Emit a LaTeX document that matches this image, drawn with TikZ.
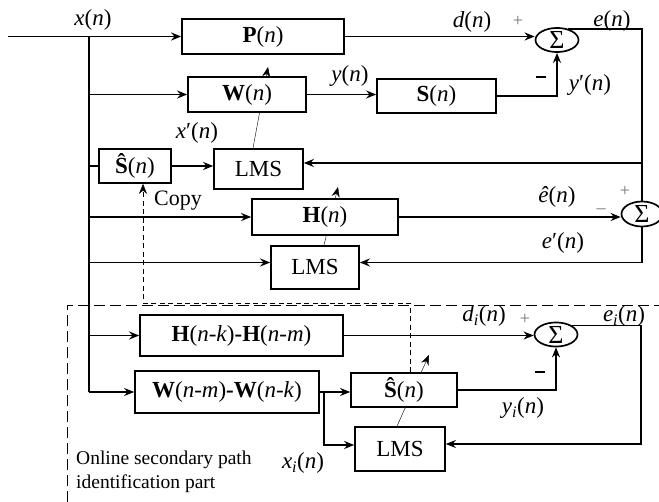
\documentclass[tikz,border=0pt]{standalone}
\usepackage{fontspec}
\setmainfont{Liberation Serif}
\usetikzlibrary{arrows.meta,shapes.geometric}
\pgfdeclarelayer{bg}
\pgfsetlayers{bg,main}
\begin{document}
\begin{tikzpicture}[x=1pt,y=-1pt,line width=1.7pt,
  every node/.style={font=\fontsize{23}{27}\selectfont, inner sep=0pt},
  blk/.style={draw, fill=white, line width=1.7pt},
  sum/.style={draw, ellipse, fill=white, minimum width=43, minimum height=22, inner sep=0pt, font=\fontsize{26}{26}\selectfont},
  arr/.style={-{Stealth[length=10pt,width=8pt]}},
  lbl/.style={font=\fontsize{23}{27}\selectfont},
  pl/.style={font=\fontsize{18}{18}\selectfont, text=black!55},
  mn/.style={inner sep=0pt},
  cpy/.style={dash pattern=on 5pt off 3.5pt},
  frame/.style={dash pattern=on 11pt off 5pt}]
\useasboundingbox (0,0) rectangle (659,502);

% blocks
\node[blk, minimum width=162, minimum height=35] (P) at (263,36.5) {\textbf{P}(\textit{n})};
\node[blk, minimum width=118, minimum height=35] (W) at (247,94.5) {\textbf{W}(\textit{n})};
\node[blk, minimum width=119, minimum height=34] (S) at (436.5,96) {\textbf{S}(\textit{n})};
\node[sum] (s1) at (557,40) {Σ};
\node[blk, minimum width=72, minimum height=34] (Sh1) at (135,166) {\textbf{Ŝ}(\textit{n})};
\node[blk, minimum width=89, minimum height=40] (L1) at (258.5,169) {LMS};
\node[blk, minimum width=146, minimum height=36] (H) at (325,217) {\textbf{H}(\textit{n})};
\node[blk, minimum width=88, minimum height=43] (L2) at (315,267.5) {LMS};
\node[sum, minimum width=41, minimum height=25] (s2) at (642,214) {Σ};
\node[blk, minimum width=203, minimum height=41] (HH) at (241.5,335.5) {\textbf{H}(\textit{n}-\textit{k})\textbf{-}\textbf{H}(\textit{n}-\textit{m})};
\node[blk, minimum width=184, minimum height=42] (WW) at (227,392) {\textbf{W}(\textit{n}-\textit{m})\textbf{-}\textbf{W}(\textit{n}-\textit{k})};
\node[blk, minimum width=106, minimum height=34] (Sh2) at (404,390) {\textbf{Ŝ}(\textit{n})};
\node[blk, minimum width=90, minimum height=44] (L3) at (400,449) {LMS};
\node[sum] (s3) at (556,334.5) {Σ};

% coordinates
\coordinate (in) at (8,36.5);
\coordinate (bt) at (89,36.5);
\coordinate (bb) at (89,392);
\coordinate (eR) at (642,32);
\coordinate (fb) at (642,163);
\coordinate (l2in) at ([yshift=5pt]L2.west);
\coordinate (l2out) at ([yshift=5pt]L2.east);
\coordinate (br) at (324,392);
\coordinate (l3in) at ([yshift=4pt]L3.west);
\coordinate (l3out) at ([yshift=5pt]L3.east);
\coordinate (eiR) at (641,329);
\coordinate (cp) at (143,303);
\coordinate (tw) at (268,67);
\coordinate (th) at (338,187);
\coordinate (ts) at (429,355);

% input bus
\draw[arr] (in) -- (P.west);
\draw (bt) -- (bb);
\draw[arr] (bt |- W.west) -- (W.west);
\draw (bt |- Sh1.west) -- (Sh1.west);
\draw[arr] (bt |- H.west) -- (H.west);
\draw[arr] (bt |- l2in) -- (l2in);
\draw[arr] (bt |- HH.west) -- (HH.west);
\draw[arr] (bb) -- (WW.west);

% upper path
\draw[arr] (P.east) -- (P.east -| s1.west);
\draw[arr] (W.east) -- (W.east -| S.west);
\draw[arr] (S.east) -| (s1.south);
\draw (s1.45) -- (s1.45 -| eR) -- (s2.north);
\draw[arr] (fb) -- (fb -| L1.east);
\draw[arr] (Sh1.east) -- (Sh1.east -| L1.west);
\draw[arr] (H.east) -- (H.east -| s2.west);
\draw[arr] (s2.south) |- (l2out);

% lower path
\draw[arr] (HH.east) -- (HH.east -| s3.west);
\draw[arr] (WW.east) -- (WW.east -| Sh2.west);
\draw[arr] (br) |- (l3in);
\draw[arr] (Sh2.east) -| (s3.south);
\draw (s3.30) -- (s3.30 -| eiR);
\draw[arr] (s3.30 -| eiR) |- (l3out);

% adaptation arrows
\begin{pgfonlayer}{bg}
\draw[arr] ([xshift=-5.5pt]L1.north) -- (tw);
\draw[arr] ([xshift=9pt]L2.north) -- (th);
\draw[arr] ([xshift=-3pt]L3.north) -- (ts);
\end{pgfonlayer}

% dashed
\draw[frame] (67,502) -- (67,305) -- (659,305);
\draw[cpy,arr] ([xshift=6pt]Sh2.north) |- (cp) -- (cp |- Sh1.south);

% labels
\node[lbl] (lx) at (93,20) {\textit{x}(\textit{n})};
\node[lbl] (ld) at (472,22) {\textit{d}(\textit{n})};
\node[pl] (p1) at (518,21) {+};
\node[lbl] (le) at (612,21) {\textit{e}(\textit{n})};
\node[lbl] (ly) at (350,76) {\textit{y}(\textit{n})};
\node[mn] (m1) at (541,77) {\rule{10pt}{2.6pt}};
\node[lbl] (lyp) at (590,85) {\textit{y}′(\textit{n})};
\node[lbl] (lxp) at (197,133) {\textit{x}′(\textit{n})};
\node[font=\fontsize{22}{24}\selectfont] (copy) at (178,201) {Copy};
\node[lbl] (leh) at (557,197) {\textit{ê}(\textit{n})};
\node[pl] (p2) at (625,191) {+};
\node[pl] (m2) at (601,211) {–};
\node[lbl] (lep) at (563,243) {\textit{e}′(\textit{n})};
\node[lbl] (ldi) at (484,316) {\textit{d}\textsubscript{\textit{i}}(\textit{n})};
\node[pl] (p3) at (525,319) {+};
\node[lbl] (lei) at (624,316) {\textit{e}\textsubscript{\textit{i}}(\textit{n})};
\node[mn] (m3) at (540,372) {\rule{10pt}{2.6pt}};
\node[lbl] (lyi) at (523,408) {\textit{y}\textsubscript{\textit{i}}(\textit{n})};
\node[lbl] (lxi) at (303,463) {\textit{x}\textsubscript{\textit{i}}(\textit{n})};
\node[anchor=north west, align=left, font=\fontsize{19.5}{24}\selectfont] (cap) at (76,451) {Online secondary path\\identification part};
\end{tikzpicture}
\end{document}
